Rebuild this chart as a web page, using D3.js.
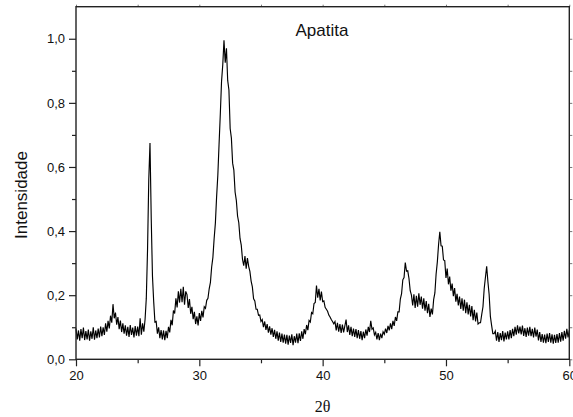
<!DOCTYPE html>
<html>
<head>
<meta charset="utf-8">
<script src="https://cdn.jsdelivr.net/npm/d3@7"></script>
<style>
  body { margin: 0; background: #fff; }
  svg { display: block; }
</style>
</head>
<body>
<script>
// XRD pattern, sampled every 0.1 degree from 20 to 60 (2theta)
var thetaStart = 20, thetaStep = 0.1;

var intensity = [
  // 20
  0.096, 0.062, 0.090, 0.058, 0.094, 0.066, 0.099, 0.060, 0.088, 0.062,
  // 21
  0.093, 0.058, 0.087, 0.064, 0.100, 0.061, 0.090, 0.066, 0.096, 0.068,
  // 22
  0.102, 0.072, 0.100, 0.076, 0.112, 0.086, 0.120, 0.096, 0.136, 0.114,
  // 23
  0.172, 0.128, 0.146, 0.108, 0.132, 0.094, 0.121, 0.085, 0.112, 0.080,
  // 24
  0.106, 0.074, 0.101, 0.070, 0.107, 0.076, 0.099, 0.068, 0.104, 0.074,
  // 25
  0.102, 0.072, 0.128, 0.077, 0.112, 0.086, 0.124, 0.190, 0.340, 0.560,
  // 26
  0.675, 0.440, 0.260, 0.180, 0.116, 0.118, 0.080, 0.100, 0.066, 0.091,
  // 27
  0.062, 0.090, 0.060, 0.089, 0.066, 0.101, 0.084, 0.123, 0.106, 0.152,
  // 28
  0.143, 0.190, 0.162, 0.212, 0.177, 0.220, 0.178, 0.226, 0.170, 0.212,
  // 29
  0.202, 0.160, 0.188, 0.142, 0.164, 0.125, 0.148, 0.110, 0.134, 0.106,
  // 30
  0.144, 0.120, 0.151, 0.131, 0.164, 0.159, 0.184, 0.190, 0.220, 0.240,
  // 31
  0.288, 0.318, 0.376, 0.424, 0.506, 0.574, 0.671, 0.764, 0.866, 0.919,
  // 32
  0.995, 0.925, 0.970, 0.870, 0.840, 0.720, 0.690, 0.612, 0.590, 0.522,
  // 33
  0.496, 0.447, 0.426, 0.377, 0.356, 0.312, 0.292, 0.322, 0.283, 0.316,
  // 34
  0.290, 0.274, 0.244, 0.226, 0.189, 0.182, 0.156, 0.156, 0.137, 0.138,
  // 35
  0.118, 0.124, 0.100, 0.118, 0.092, 0.110, 0.083, 0.103, 0.077, 0.097,
  // 36
  0.070, 0.092, 0.064, 0.087, 0.058, 0.083, 0.054, 0.080, 0.052, 0.077,
  // 37
  0.049, 0.076, 0.046, 0.074, 0.051, 0.078, 0.044, 0.072, 0.052, 0.080,
  // 38
  0.050, 0.081, 0.057, 0.087, 0.064, 0.094, 0.078, 0.107, 0.091, 0.121,
  // 39
  0.116, 0.146, 0.142, 0.174, 0.177, 0.230, 0.192, 0.220, 0.184, 0.211,
  // 40
  0.180, 0.182, 0.162, 0.156, 0.150, 0.138, 0.132, 0.124, 0.118, 0.111,
  // 41
  0.118, 0.090, 0.114, 0.086, 0.110, 0.082, 0.108, 0.084, 0.104, 0.124,
  // 42
  0.085, 0.106, 0.076, 0.101, 0.072, 0.096, 0.070, 0.094, 0.066, 0.091,
  // 43
  0.064, 0.088, 0.060, 0.086, 0.066, 0.093, 0.074, 0.101, 0.085, 0.120,
  // 44
  0.094, 0.098, 0.076, 0.084, 0.062, 0.082, 0.060, 0.080, 0.066, 0.086,
  // 45
  0.078, 0.096, 0.082, 0.104, 0.090, 0.112, 0.094, 0.120, 0.104, 0.132,
  // 46
  0.120, 0.148, 0.148, 0.188, 0.205, 0.248, 0.255, 0.302, 0.275, 0.276,
  // 47
  0.252, 0.214, 0.200, 0.168, 0.203, 0.160, 0.198, 0.164, 0.206, 0.170,
  // 48
  0.196, 0.158, 0.190, 0.152, 0.182, 0.144, 0.173, 0.132, 0.158, 0.140,
  // 49
  0.186, 0.207, 0.266, 0.304, 0.358, 0.398, 0.354, 0.353, 0.310, 0.308,
  // 50
  0.254, 0.283, 0.234, 0.258, 0.214, 0.236, 0.197, 0.222, 0.180, 0.204,
  // 51
  0.168, 0.196, 0.157, 0.190, 0.152, 0.186, 0.144, 0.178, 0.140, 0.170,
  // 52
  0.134, 0.166, 0.122, 0.154, 0.118, 0.146, 0.110, 0.114, 0.114, 0.140,
  // 53
  0.164, 0.221, 0.256, 0.290, 0.242, 0.202, 0.134, 0.106, 0.080, 0.080,
  // 54
  0.088, 0.058, 0.085, 0.054, 0.082, 0.060, 0.088, 0.056, 0.083, 0.062,
  // 55
  0.087, 0.062, 0.091, 0.066, 0.095, 0.072, 0.101, 0.077, 0.106, 0.081,
  // 56
  0.102, 0.078, 0.105, 0.073, 0.097, 0.070, 0.099, 0.074, 0.101, 0.072,
  // 57
  0.095, 0.068, 0.099, 0.071, 0.093, 0.059, 0.085, 0.054, 0.079, 0.052,
  // 58
  0.077, 0.050, 0.080, 0.054, 0.082, 0.052, 0.078, 0.049, 0.076, 0.051,
  // 59
  0.079, 0.052, 0.082, 0.055, 0.085, 0.058, 0.089, 0.064, 0.095, 0.068,
  // 60
  0.090
];

var xMajor = [20, 30, 40, 50, 60];
var xMinor = [25, 35, 45, 55];
var yMajor = [0, 0.2, 0.4, 0.6, 0.8, 1.0];
var yMinor = [0.1, 0.3, 0.5, 0.7, 0.9];

var W = 573, H = 417;
var margin = { top: 6.7, right: 3.7, bottom: 57.7, left: 76 },
    width = W - margin.left - margin.right,
    height = H - margin.top - margin.bottom;

var svg = d3.select("body")
    .append("svg")
    .attr("width", W)
    .attr("height", H)
    .style("font-family", "'Liberation Sans', Arial, sans-serif");

var g = svg.append("g")
    .attr("transform", "translate(" + margin.left + "," + margin.top + ")");

var x = d3.scaleLinear().domain([20, 60]).range([0, width]);
var y = d3.scaleLinear().domain([0, 1.1]).range([height, 0]);

var comma = function (d) { return d3.format(".1f")(d).replace(".", ","); };

// the trace
var line = d3.line()
    .x(function (d, i) { return x(thetaStart + i * thetaStep); })
    .y(function (d) { return y(d); });

g.append("path")
    .datum(intensity)
    .attr("fill", "none")
    .attr("stroke", "#000")
    .attr("stroke-width", 1.15)
    .attr("d", line);

// bottom axis
var bx = g.append("g").attr("transform", "translate(0," + height + ")");
bx.call(d3.axisBottom(x).tickValues(xMajor).tickSize(7).tickSizeOuter(0).tickPadding(4).tickFormat(d3.format("d")));
bx.append("g").call(d3.axisBottom(x).tickValues(xMinor).tickSize(4).tickSizeOuter(0).tickFormat(""));

// left axis
var ly = g.append("g");
ly.call(d3.axisLeft(y).tickValues(yMajor).tickSize(7).tickSizeOuter(0).tickPadding(4).tickFormat(comma));
ly.append("g").call(d3.axisLeft(y).tickValues(yMinor).tickSize(4).tickSizeOuter(0).tickFormat(""));

// top and right mirror ticks
g.append("g").call(d3.axisTop(x).tickValues(xMajor.concat(xMinor)).tickSize(2).tickSizeOuter(0).tickFormat(""))
    .attr("class", "mirror");
g.append("g").attr("transform", "translate(" + width + ",0)")
    .call(d3.axisRight(y).tickValues(yMajor.concat(yMinor)).tickSize(3).tickSizeOuter(0).tickFormat(""))
    .attr("class", "mirror");

svg.selectAll(".domain").remove();
svg.selectAll(".tick line").attr("stroke", "#222").attr("stroke-width", 1.2);
svg.selectAll(".mirror .tick line").attr("stroke", "#777").attr("stroke-width", 1);
svg.selectAll(".tick text").attr("fill", "#111").style("font-size", "13px");

// frame
g.append("rect")
    .attr("x", 0).attr("y", 0)
    .attr("width", width).attr("height", height)
    .attr("fill", "none")
    .attr("stroke", "#222")
    .attr("stroke-width", 1.4);

// labels
svg.append("text")
    .attr("x", 322)
    .attr("y", 36)
    .attr("text-anchor", "middle")
    .style("font-size", "17px")
    .attr("fill", "#111")
    .text("Apatita");

svg.append("text")
    .attr("transform", "translate(27,195) rotate(-90)")
    .attr("text-anchor", "middle")
    .style("font-size", "17px")
    .attr("fill", "#111")
    .text("Intensidade");

svg.append("text")
    .attr("x", margin.left + width / 2)
    .attr("y", 412)
    .attr("text-anchor", "middle")
    .style("font-family", "'Liberation Serif', 'Times New Roman', serif")
    .style("font-size", "16px")
    .attr("fill", "#111")
    .text("2θ");
</script>
</body>
</html>
